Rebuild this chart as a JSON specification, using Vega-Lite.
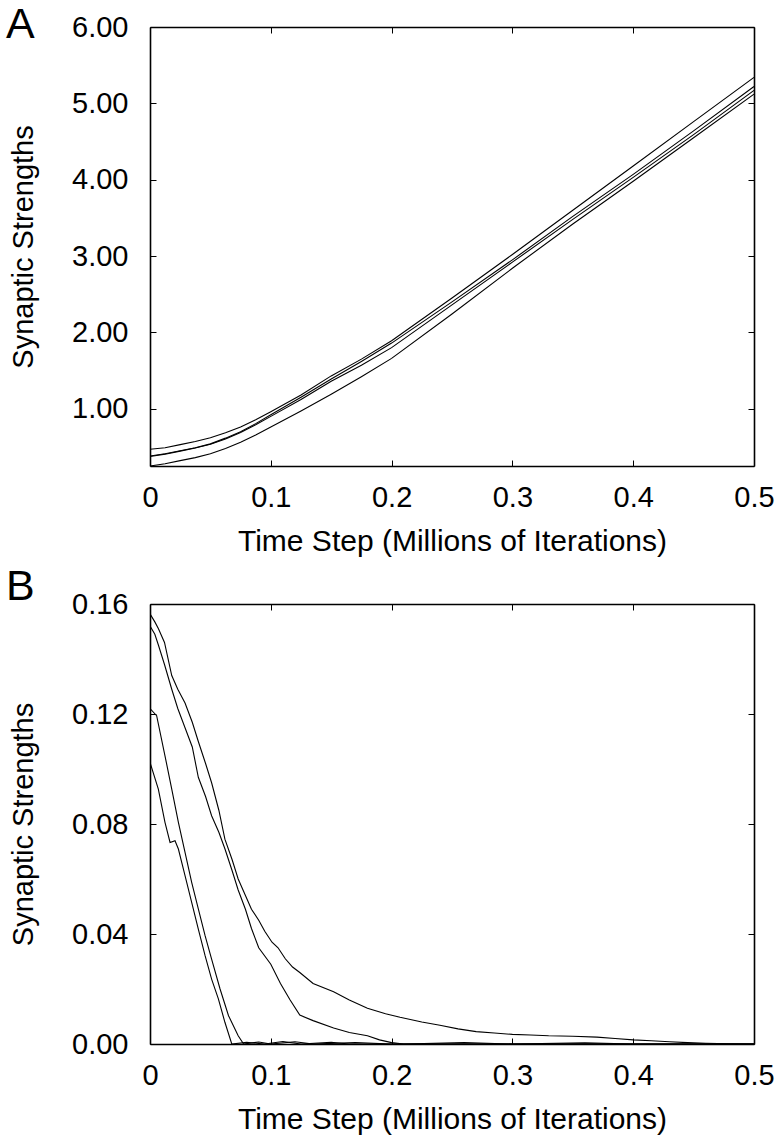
{
  "$schema": "https://vega.github.io/schema/vega-lite/v6.json",
  "padding": {"left": 6, "top": 4, "right": 5, "bottom": 5},
  "background": "white",
  "spacing": 10,
  "config": {
    "view": {"stroke": null},
    "font": "Liberation Sans",
    "axis": {
      "labelFont": "Liberation Sans", "titleFont": "Liberation Sans",
      "labelFontSize": 29, "titleFontSize": 30, "titleFontWeight": "normal",
      "labelColor": "black", "titleColor": "black", "tickColor": "black", "domainColor": "black",
      "grid": false, "tickSize": -6, "tickWidth": 1, "domainWidth": 1.6, "labelFlush": false,
      "labelPadding": 23, "titlePadding": 14, "labelOverlap": false
    },
    "axisY": {"labelPadding": 28, "titlePadding": 33, "titleFontSize": 29}
  },
  "datasets": {
    "a": [
      {"series": "L1", "t": 0, "v": 0.47}, {"series": "L1", "t": 0.0125, "v": 0.49}, {"series": "L1", "t": 0.025, "v": 0.53}, {"series": "L1", "t": 0.0375, "v": 0.57}, {"series": "L1", "t": 0.05, "v": 0.62}, {"series": "L1", "t": 0.0625, "v": 0.685}, {"series": "L1", "t": 0.075, "v": 0.76}, {"series": "L1", "t": 0.0875, "v": 0.855}, {"series": "L1", "t": 0.1, "v": 0.96}, {"series": "L1", "t": 0.125, "v": 1.18}, {"series": "L1", "t": 0.15, "v": 1.43}, {"series": "L1", "t": 0.175, "v": 1.65}, {"series": "L1", "t": 0.2, "v": 1.89}, {"series": "L1", "t": 0.25, "v": 2.45}, {"series": "L1", "t": 0.3, "v": 3.02}, {"series": "L1", "t": 0.35, "v": 3.6}, {"series": "L1", "t": 0.4, "v": 4.18}, {"series": "L1", "t": 0.45, "v": 4.76}, {"series": "L1", "t": 0.5, "v": 5.34},
      {"series": "L2", "t": 0, "v": 0.38}, {"series": "L2", "t": 0.0125, "v": 0.41}, {"series": "L2", "t": 0.025, "v": 0.45}, {"series": "L2", "t": 0.0375, "v": 0.49}, {"series": "L2", "t": 0.05, "v": 0.54}, {"series": "L2", "t": 0.0625, "v": 0.615}, {"series": "L2", "t": 0.075, "v": 0.7}, {"series": "L2", "t": 0.0875, "v": 0.805}, {"series": "L2", "t": 0.1, "v": 0.92}, {"series": "L2", "t": 0.125, "v": 1.15}, {"series": "L2", "t": 0.15, "v": 1.39}, {"series": "L2", "t": 0.175, "v": 1.62}, {"series": "L2", "t": 0.2, "v": 1.86}, {"series": "L2", "t": 0.25, "v": 2.4}, {"series": "L2", "t": 0.3, "v": 2.95}, {"series": "L2", "t": 0.35, "v": 3.52}, {"series": "L2", "t": 0.4, "v": 4.07}, {"series": "L2", "t": 0.45, "v": 4.64}, {"series": "L2", "t": 0.5, "v": 5.22},
      {"series": "L3", "t": 0, "v": 0.375}, {"series": "L3", "t": 0.0125, "v": 0.405}, {"series": "L3", "t": 0.025, "v": 0.445}, {"series": "L3", "t": 0.0375, "v": 0.485}, {"series": "L3", "t": 0.05, "v": 0.535}, {"series": "L3", "t": 0.0625, "v": 0.605}, {"series": "L3", "t": 0.075, "v": 0.69}, {"series": "L3", "t": 0.0875, "v": 0.79}, {"series": "L3", "t": 0.1, "v": 0.9}, {"series": "L3", "t": 0.125, "v": 1.12}, {"series": "L3", "t": 0.15, "v": 1.36}, {"series": "L3", "t": 0.175, "v": 1.57}, {"series": "L3", "t": 0.2, "v": 1.8}, {"series": "L3", "t": 0.25, "v": 2.36}, {"series": "L3", "t": 0.3, "v": 2.92}, {"series": "L3", "t": 0.35, "v": 3.48}, {"series": "L3", "t": 0.4, "v": 4.03}, {"series": "L3", "t": 0.45, "v": 4.59}, {"series": "L3", "t": 0.5, "v": 5.17},
      {"series": "L4", "t": 0, "v": 0.25}, {"series": "L4", "t": 0.0125, "v": 0.28}, {"series": "L4", "t": 0.025, "v": 0.32}, {"series": "L4", "t": 0.0375, "v": 0.36}, {"series": "L4", "t": 0.05, "v": 0.41}, {"series": "L4", "t": 0.0625, "v": 0.48}, {"series": "L4", "t": 0.075, "v": 0.56}, {"series": "L4", "t": 0.0875, "v": 0.655}, {"series": "L4", "t": 0.1, "v": 0.76}, {"series": "L4", "t": 0.125, "v": 0.97}, {"series": "L4", "t": 0.15, "v": 1.19}, {"series": "L4", "t": 0.175, "v": 1.42}, {"series": "L4", "t": 0.2, "v": 1.66}, {"series": "L4", "t": 0.25, "v": 2.24}, {"series": "L4", "t": 0.3, "v": 2.84}, {"series": "L4", "t": 0.35, "v": 3.42}, {"series": "L4", "t": 0.4, "v": 3.98}, {"series": "L4", "t": 0.45, "v": 4.55}, {"series": "L4", "t": 0.5, "v": 5.12}
    ],
    "b": [
      {"series": "B1", "t": 0, "v": 0.1564}, {"series": "B1", "t": 0.004, "v": 0.1535}, {"series": "B1", "t": 0.007, "v": 0.151}, {"series": "B1", "t": 0.012, "v": 0.146}, {"series": "B1", "t": 0.018, "v": 0.134}, {"series": "B1", "t": 0.023, "v": 0.129}, {"series": "B1", "t": 0.029, "v": 0.124}, {"series": "B1", "t": 0.035, "v": 0.117}, {"series": "B1", "t": 0.04, "v": 0.11}, {"series": "B1", "t": 0.046, "v": 0.102}, {"series": "B1", "t": 0.051, "v": 0.095}, {"series": "B1", "t": 0.057, "v": 0.085}, {"series": "B1", "t": 0.062, "v": 0.0745}, {"series": "B1", "t": 0.068, "v": 0.067}, {"series": "B1", "t": 0.073, "v": 0.06}, {"series": "B1", "t": 0.079, "v": 0.054}, {"series": "B1", "t": 0.084, "v": 0.049}, {"series": "B1", "t": 0.09, "v": 0.045}, {"series": "B1", "t": 0.095, "v": 0.041}, {"series": "B1", "t": 0.101, "v": 0.037}, {"series": "B1", "t": 0.106, "v": 0.035}, {"series": "B1", "t": 0.112, "v": 0.031}, {"series": "B1", "t": 0.118, "v": 0.028}, {"series": "B1", "t": 0.124, "v": 0.026}, {"series": "B1", "t": 0.135, "v": 0.022}, {"series": "B1", "t": 0.152, "v": 0.019}, {"series": "B1", "t": 0.165, "v": 0.016}, {"series": "B1", "t": 0.18, "v": 0.013}, {"series": "B1", "t": 0.195, "v": 0.011}, {"series": "B1", "t": 0.207, "v": 0.0097}, {"series": "B1", "t": 0.225, "v": 0.008}, {"series": "B1", "t": 0.24, "v": 0.0068}, {"series": "B1", "t": 0.255, "v": 0.0055}, {"series": "B1", "t": 0.27, "v": 0.0045}, {"series": "B1", "t": 0.285, "v": 0.004}, {"series": "B1", "t": 0.3, "v": 0.0035}, {"series": "B1", "t": 0.315, "v": 0.0033}, {"series": "B1", "t": 0.33, "v": 0.003}, {"series": "B1", "t": 0.35, "v": 0.0028}, {"series": "B1", "t": 0.37, "v": 0.0025}, {"series": "B1", "t": 0.385, "v": 0.002}, {"series": "B1", "t": 0.4, "v": 0.0015}, {"series": "B1", "t": 0.415, "v": 0.0012}, {"series": "B1", "t": 0.43, "v": 0.0008}, {"series": "B1", "t": 0.445, "v": 0.0005}, {"series": "B1", "t": 0.46, "v": 0.0003}, {"series": "B1", "t": 0.48, "v": 0.0001}, {"series": "B1", "t": 0.5, "v": 0},
      {"series": "B2", "t": 0, "v": 0.152}, {"series": "B2", "t": 0.004, "v": 0.149}, {"series": "B2", "t": 0.007, "v": 0.145}, {"series": "B2", "t": 0.012, "v": 0.138}, {"series": "B2", "t": 0.018, "v": 0.129}, {"series": "B2", "t": 0.023, "v": 0.122}, {"series": "B2", "t": 0.029, "v": 0.115}, {"series": "B2", "t": 0.035, "v": 0.108}, {"series": "B2", "t": 0.04, "v": 0.097}, {"series": "B2", "t": 0.046, "v": 0.09}, {"series": "B2", "t": 0.051, "v": 0.083}, {"series": "B2", "t": 0.057, "v": 0.077}, {"series": "B2", "t": 0.062, "v": 0.071}, {"series": "B2", "t": 0.068, "v": 0.063}, {"series": "B2", "t": 0.073, "v": 0.056}, {"series": "B2", "t": 0.079, "v": 0.049}, {"series": "B2", "t": 0.084, "v": 0.042}, {"series": "B2", "t": 0.09, "v": 0.035}, {"series": "B2", "t": 0.1, "v": 0.029}, {"series": "B2", "t": 0.108, "v": 0.022}, {"series": "B2", "t": 0.116, "v": 0.016}, {"series": "B2", "t": 0.124, "v": 0.0105}, {"series": "B2", "t": 0.135, "v": 0.0085}, {"series": "B2", "t": 0.152, "v": 0.0058}, {"series": "B2", "t": 0.165, "v": 0.0042}, {"series": "B2", "t": 0.18, "v": 0.003}, {"series": "B2", "t": 0.19, "v": 0.0015}, {"series": "B2", "t": 0.2, "v": 0.0005}, {"series": "B2", "t": 0.21, "v": 0}, {"series": "B2", "t": 0.26, "v": 0.0005}, {"series": "B2", "t": 0.3, "v": 0}, {"series": "B2", "t": 0.36, "v": 0.0004}, {"series": "B2", "t": 0.4, "v": 0}, {"series": "B2", "t": 0.5, "v": 0},
      {"series": "B3", "t": 0, "v": 0.122}, {"series": "B3", "t": 0.0055, "v": 0.1194}, {"series": "B3", "t": 0.0124, "v": 0.1048}, {"series": "B3", "t": 0.018, "v": 0.0927}, {"series": "B3", "t": 0.0235, "v": 0.0806}, {"series": "B3", "t": 0.029, "v": 0.0697}, {"series": "B3", "t": 0.0345, "v": 0.0588}, {"series": "B3", "t": 0.04, "v": 0.0491}, {"series": "B3", "t": 0.0456, "v": 0.0394}, {"series": "B3", "t": 0.051, "v": 0.0309}, {"series": "B3", "t": 0.058, "v": 0.02}, {"series": "B3", "t": 0.065, "v": 0.0103}, {"series": "B3", "t": 0.073, "v": 0.003}, {"series": "B3", "t": 0.0775, "v": 0}, {"series": "B3", "t": 0.09, "v": 0.0007}, {"series": "B3", "t": 0.1, "v": 0}, {"series": "B3", "t": 0.12, "v": 0.0008}, {"series": "B3", "t": 0.135, "v": 0}, {"series": "B3", "t": 0.17, "v": 0.0005}, {"series": "B3", "t": 0.2, "v": 0}, {"series": "B3", "t": 0.5, "v": 0},
      {"series": "B4", "t": 0, "v": 0.1024}, {"series": "B4", "t": 0.0069, "v": 0.0927}, {"series": "B4", "t": 0.0124, "v": 0.0806}, {"series": "B4", "t": 0.0166, "v": 0.0733}, {"series": "B4", "t": 0.0207, "v": 0.0739}, {"series": "B4", "t": 0.0235, "v": 0.0709}, {"series": "B4", "t": 0.029, "v": 0.0612}, {"series": "B4", "t": 0.0345, "v": 0.0515}, {"series": "B4", "t": 0.04, "v": 0.0418}, {"series": "B4", "t": 0.0456, "v": 0.0321}, {"series": "B4", "t": 0.051, "v": 0.0236}, {"series": "B4", "t": 0.0566, "v": 0.0164}, {"series": "B4", "t": 0.062, "v": 0.0079}, {"series": "B4", "t": 0.0677, "v": 0}, {"series": "B4", "t": 0.08, "v": 0.0006}, {"series": "B4", "t": 0.095, "v": 0}, {"series": "B4", "t": 0.11, "v": 0.0009}, {"series": "B4", "t": 0.125, "v": 0}, {"series": "B4", "t": 0.15, "v": 0.0006}, {"series": "B4", "t": 0.165, "v": 0}, {"series": "B4", "t": 0.5, "v": 0}
    ]
  },
  "vconcat": [
    {
      "width": 604, "height": 439,
      "title": {"text": "A", "anchor": "start", "frame": "group", "dx": -144, "offset": -68, "baseline": "alphabetic", "fontSize": 43, "font": "Liberation Sans", "fontWeight": "normal", "color": "black"},
      "data": {"name": "a"},
      "layer": [
        {
          "mark": {"type": "line", "color": "black", "strokeWidth": 1.1, "clip": true},
          "encoding": {
            "x": {"field": "t", "type": "quantitative", "scale": {"domain": [0, 0.5], "nice": false}, "axis": {"orient": "bottom", "values": [0, 0.1, 0.2, 0.3, 0.4, 0.5], "format": "~g", "title": "Time Step (Millions of Iterations)"}},
            "y": {"field": "v", "type": "quantitative", "scale": {"domain": [0.25, 6], "nice": false, "zero": false}, "axis": {"orient": "left", "values": [1, 2, 3, 4, 5, 6], "format": ".2f", "title": "Synaptic Strengths"}},
            "detail": {"field": "series"}
          }
        },
        {
          "mark": {"type": "line", "opacity": 0},
          "encoding": {
            "x": {"field": "t", "type": "quantitative", "axis": {"orient": "top", "values": [0, 0.1, 0.2, 0.3, 0.4, 0.5], "labels": false, "title": null}},
            "y": {"field": "v", "type": "quantitative", "axis": {"orient": "right", "values": [1, 2, 3, 4, 5, 6], "labels": false, "title": null}},
            "detail": {"field": "series"}
          }
        }
      ],
      "resolve": {"axis": {"x": "independent", "y": "independent"}}
    },
    {
      "width": 604, "height": 440,
      "title": {"text": "B", "anchor": "start", "frame": "group", "dx": -144, "offset": -53, "baseline": "alphabetic", "fontSize": 43, "font": "Liberation Sans", "fontWeight": "normal", "color": "black"},
      "data": {"name": "b"},
      "layer": [
        {
          "mark": {"type": "line", "color": "black", "strokeWidth": 1.1, "clip": true},
          "encoding": {
            "x": {"field": "t", "type": "quantitative", "scale": {"domain": [0, 0.5], "nice": false}, "axis": {"orient": "bottom", "values": [0, 0.1, 0.2, 0.3, 0.4, 0.5], "format": "~g", "title": "Time Step (Millions of Iterations)"}},
            "y": {"field": "v", "type": "quantitative", "scale": {"domain": [0, 0.16], "nice": false}, "axis": {"orient": "left", "values": [0, 0.04, 0.08, 0.12, 0.16], "format": ".2f", "title": "Synaptic Strengths"}},
            "detail": {"field": "series"}
          }
        },
        {
          "mark": {"type": "line", "opacity": 0},
          "encoding": {
            "x": {"field": "t", "type": "quantitative", "axis": {"orient": "top", "values": [0, 0.1, 0.2, 0.3, 0.4, 0.5], "labels": false, "title": null}},
            "y": {"field": "v", "type": "quantitative", "axis": {"orient": "right", "values": [0, 0.04, 0.08, 0.12, 0.16], "labels": false, "title": null}},
            "detail": {"field": "series"}
          }
        }
      ],
      "resolve": {"axis": {"x": "independent", "y": "independent"}}
    }
  ]
}
